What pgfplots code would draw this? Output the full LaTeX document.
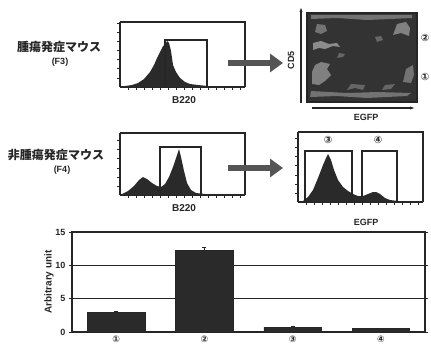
\documentclass[border=0pt]{standalone}
\usepackage{pgfplots}
\pgfplotsset{compat=1.18}
\usepackage{fontspec}
\setmainfont{Liberation Sans}
\newfontfamily\cjk{Noto Sans CJK JP}
\newfontfamily\sym{DejaVu Sans}
\usetikzlibrary{arrows.meta}
\definecolor{ink}{HTML}{262626}
\definecolor{fillk}{HTML}{2A2A2A}
\definecolor{arr}{HTML}{555555}
\pgfplotsset{
  hist/.style={scale only axis, width=125pt, xmin=0, xmax=125, ymin=0,
    axis line style={ink, line width=1.6pt},
    xtick={8,16,...,120}, xticklabels={}, ytick={9,18,...,60}, yticklabels={},
    tick align=outside, major tick length=3pt, tick style={ink, line width=1pt},
    axis x line*=bottom, axis y line*=left, clip=false},
}
\begin{document}
\begin{tikzpicture}
\path[use as bounding box] (0pt,0pt) rectangle (431pt,-348pt);
% ---------- Panel A: top-left histogram
\begin{axis}[hist, at={(120pt,-87pt)}, anchor=south west, height=65pt, ymax=65]
\addplot[draw=none, fill=fillk] coordinates {(5,0)(5,1)(12,2)(18,4)(24,8)(30,15)(34,22)(37,29)(40,35)(43,41)(45,42)(47,46)(49,44)(51,36)(53,22)(56,15)(60,9)(65,5)(70,3)(78,2)(88,1)(100,0.6)(115,0.3)(125,0)} -- cycle;
\addplot[ink, line width=1.6pt] coordinates {(45,0)(45,47)(87,47)(87,0)};
\draw[ink, line width=1.6pt] (axis cs:0,65) -- (axis cs:125,65) -- (axis cs:125,0);
\end{axis}
% ---------- Panel C: middle-left histogram
\begin{axis}[hist, at={(120pt,-195pt)}, anchor=south west, height=62pt, ymax=62]
\addplot[draw=none, fill=fillk] coordinates {(2,0)(2,1)(8,4)(14,9)(19,15)(23,18)(27,16)(32,12)(37,9)(41,8)(45,11)(49,18)(53,28)(57,40)(59,46)(61,38)(64,24)(67,12)(71,5)(76,2)(85,1)(100,0.5)(125,0)} -- cycle;
\addplot[ink, line width=1.6pt] coordinates {(40,0)(40,48)(81,48)(81,0)};
\draw[ink, line width=1.6pt] (axis cs:0,62) -- (axis cs:125,62) -- (axis cs:125,0);
\end{axis}
% ---------- Panel D: middle-right EGFP histogram
\begin{axis}[hist, at={(298pt,-202pt)}, anchor=south west, height=70pt, ymax=70]
\addplot[draw=none, fill=fillk] coordinates {(5,0)(5,1)(10,5)(15,12)(20,24)(25,37)(28,44)(30,48)(33,42)(36,32)(40,22)(45,15)(50,11)(55,8)(60,6)(65,6)(70,8)(75,10)(78,10)(82,8)(87,4)(92,2)(100,1)(110,0.5)(125,0)} -- cycle;
\addplot[ink, line width=1.6pt] coordinates {(7,0)(7,51)(54,51)(54,0)};
\addplot[ink, line width=1.6pt] coordinates {(64,0)(64,51)(99,51)(99,0)};
\draw[ink, line width=1.6pt] (axis cs:0,70) -- (axis cs:125,70) -- (axis cs:125,0);
\node[font=\sym\bfseries\fontsize{10}{10}\selectfont, ink] at (axis cs:30,62) {③};
\node[font=\sym\bfseries\fontsize{10}{10}\selectfont, ink] at (axis cs:80,62) {④};
\end{axis}
% ---------- Panel B: dot plot
\begin{axis}[scale only axis, at={(307pt,-102pt)}, anchor=south west, width=110pt, height=89pt,
  xmin=0, xmax=110, ymin=0, ymax=89, axis line style={ink, line width=1.8pt},
  xtick=\empty, ytick=\empty]
\addplot[draw=none, fill=black!80] coordinates {(1,1)(109,1)(109,88)(1,88)} -- cycle;
\addplot[draw=none, fill=black!45] coordinates {(6,52)(12,54)(18,53)(26,56)(33,55)(30,59)(22,58)(14,61)(6,59)} -- cycle;
\addplot[draw=none, fill=black!50] coordinates {(5,18)(12,17)(18,21)(24,27)(20,33)(23,38)(14,40)(8,37)(5,30)} -- cycle;
\addplot[draw=none, fill=black!55] coordinates {(3,5)(30,6)(60,4)(100,6)(104,9)(70,10)(40,9)(4,11)} -- cycle;
\addplot[draw=none, fill=black!50] coordinates {(86,67)(94,69)(102,66)(103,74)(99,80)(90,78)} -- cycle;
\addplot[draw=none, fill=black!55] coordinates {(96,20)(104,19)(107,27)(106,37)(99,33)} -- cycle;
\addplot[draw=none, fill=black!55] coordinates {(4,83)(30,84)(60,82)(105,84)(105,87)(4,87)} -- cycle;
\addplot[draw=none, fill=black!55] coordinates {(8,70)(14,68)(20,71)(18,77)(10,78)} -- cycle;
\addplot[draw=none, fill=black!60] coordinates {(40,12)(48,14)(56,12)(58,17)(44,18)} -- cycle;
\addplot[draw=none, fill=black!60] coordinates {(30,44)(36,45)(38,48)(32,49)} -- cycle;
\addplot[draw=none, fill=black!60] coordinates {(70,60)(76,62)(74,66)(68,65)} -- cycle;
\addplot[draw=none, fill=black!60] coordinates {(75,12)(84,13)(88,18)(78,17)} -- cycle;
\end{axis}
\draw[ink, line width=1.4pt, -{Stealth[length=4pt]}] (301pt,-103pt) -- (301pt,-8pt);
\draw[ink, line width=1.4pt, -{Stealth[length=4pt]}] (312pt,-108pt) -- (414pt,-108pt);
\node[rotate=90, font=\bfseries\fontsize{9}{9}\selectfont, ink] at (291pt,-60pt) {CD5};
\node[font=\bfseries\fontsize{9}{9}\selectfont, ink] at (366pt,-117pt) {EGFP};
\node[font=\sym\bfseries\fontsize{10}{10}\selectfont, ink] at (425pt,-38pt) {②};
\node[font=\sym\bfseries\fontsize{10}{10}\selectfont, ink] at (425pt,-77pt) {①};
% ---------- arrows
\draw[arr, line width=6pt, -{Triangle[length=13pt, width=18pt]}] (228pt,-63pt) -- (283pt,-63pt);
\draw[arr, line width=6pt, -{Triangle[length=13pt, width=18pt]}] (228pt,-168pt) -- (283pt,-168pt);
% ---------- labels
\node[font=\cjk\bfseries\fontsize{12}{12}\selectfont, ink] at (59pt,-47pt) {腫瘍発症マウス};
\node[font=\bfseries\fontsize{9}{9}\selectfont, ink] at (60pt,-62pt) {(F3)};
\node[font=\cjk\bfseries\fontsize{12}{12}\selectfont, ink] at (56pt,-155pt) {非腫瘍発症マウス};
\node[font=\bfseries\fontsize{9}{9}\selectfont, ink] at (62pt,-170pt) {(F4)};
\node[font=\bfseries\fontsize{10}{10}\selectfont, ink] at (184pt,-100pt) {B220};
\node[font=\bfseries\fontsize{10}{10}\selectfont, ink] at (184pt,-208pt) {B220};
\node[font=\bfseries\fontsize{9}{9}\selectfont, ink] at (366pt,-222pt) {EGFP};
% ---------- Panel E: bar chart
\begin{axis}[scale only axis, at={(72pt,-332pt)}, anchor=south west, width=353pt, height=100pt,
  xmin=-0.5, xmax=3.5, ymin=0, ymax=15, ytick={0,5,10,15},
  xtick={0,1,2,3}, xticklabels={①,②,③,④},
  xticklabel style={font=\sym\bfseries\fontsize{9}{9}\selectfont, ink, inner sep=1pt},
  yticklabel style={font=\bfseries\fontsize{9}{9}\selectfont, ink},
  /pgf/number format/assume math mode=true,
  ymajorgrids, grid style={ink, line width=1.2pt},
  axis line style={ink, line width=1.5pt},
  tick style={ink, line width=1pt}, major tick length=3pt, tick align=outside,
  xtick style={draw=none},
  ylabel={Arbitrary unit}, ylabel style={font=\bfseries\fontsize{10}{10}\selectfont, ink},
  ylabel shift=-5pt]
\addplot[ybar, bar width=0.65, fill=fillk, draw=ink,
  error bars/.cd, y dir=plus, y explicit, error bar style={ink, line width=1pt}, error mark options={ink, mark size=2pt, rotate=90}]
  coordinates {(0,2.9) +- (0,0.15) (1,12.3) +- (0,0.35) (2,0.7) +- (0,0.15) (3,0.5) +- (0,0.08)};
\end{axis}
\end{tikzpicture}
\end{document}
